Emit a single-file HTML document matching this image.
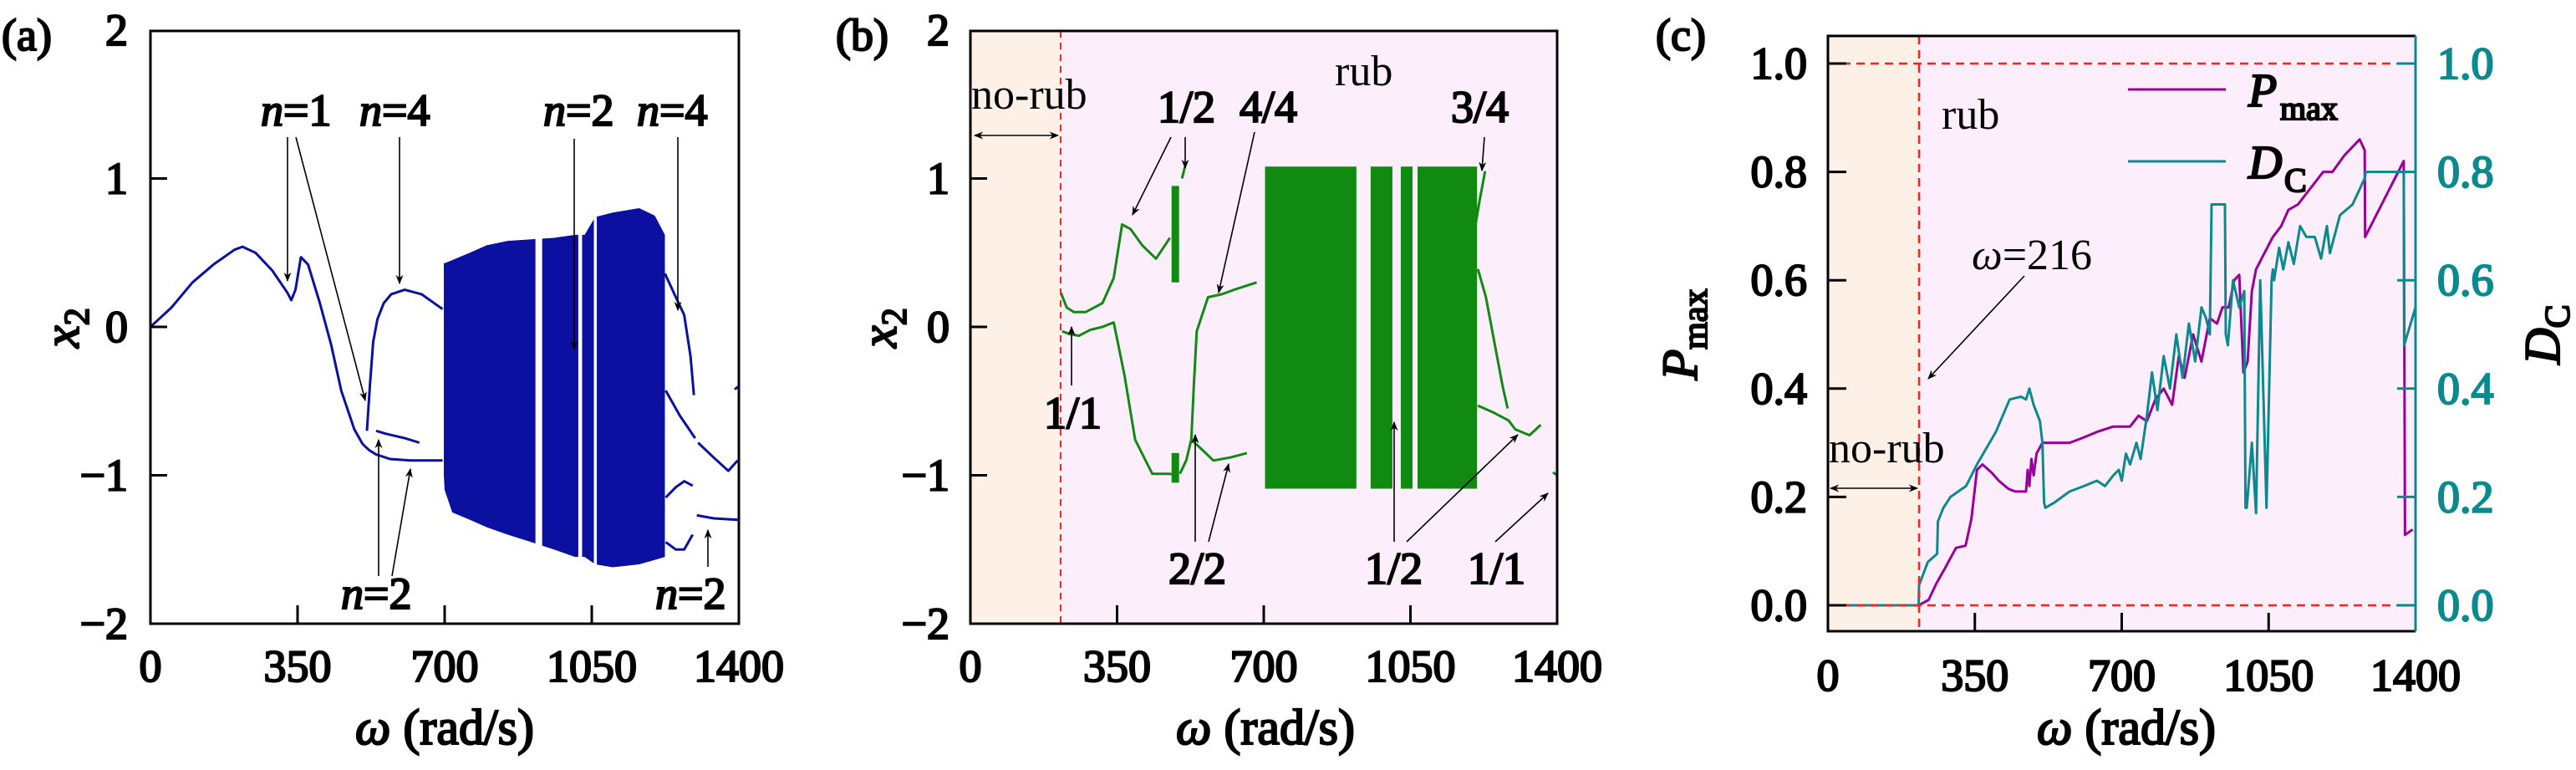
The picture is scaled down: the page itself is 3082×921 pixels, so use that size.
<!DOCTYPE html>
<html><head><meta charset="utf-8"><style>
html,body{margin:0;padding:0;background:#fff;}
svg, svg text, svg tspan{font-family:"Liberation Serif","DejaVu Serif",serif;}
.tk{font-size:54px;}
.an{font-size:54px;}
.nr{font-size:52px;}
</style></head><body>
<svg id="fig" width="3082" height="916" viewBox="0 0 3082 916" xmlns="http://www.w3.org/2000/svg">
<rect x="1161" y="37" width="108" height="709" fill="#fdf1e7"/>
<rect x="1269" y="37" width="594" height="709" fill="#fdeefc"/>
<rect x="2187" y="43" width="109" height="712" fill="#fdf1e7"/>
<rect x="2296" y="43" width="594" height="712" fill="#fdeefc"/>
<g id="ga"></g>
<g id="gb"></g>
<g id="gc"></g>
<line x1="1269" y1="37" x2="1269" y2="746" stroke="#ff2020" stroke-width="2" stroke-dasharray="8,6"/>
<line x1="2296" y1="43" x2="2296" y2="755" stroke="#ff2020" stroke-width="2.5" stroke-dasharray="10,7"/>
<line x1="2187" y1="76" x2="2890" y2="76" stroke="#ff2020" stroke-width="2.5" stroke-dasharray="10,7"/>
<line x1="2187" y1="724" x2="2890" y2="724" stroke="#ff2020" stroke-width="2.5" stroke-dasharray="10,7"/>
<rect x="180" y="37" width="704" height="709" fill="none" stroke="#000" stroke-width="3"/>
<rect x="1161" y="37" width="702" height="709" fill="none" stroke="#000" stroke-width="3"/>
<path d="M2890 43 L2187 43 L2187 755 L2890 755" fill="none" stroke="#000" stroke-width="3"/>
<line x1="2890" y1="43" x2="2890" y2="755" stroke="#0a8a8f" stroke-width="3"/>
<g id="ticks"></g>
<g stroke="#000" stroke-width="2.2" fill="#000">
<text x="2" y="60" class="an">(a)</text>
<text x="1000" y="60" class="an">(b)</text>
<text x="1981" y="60" class="an">(c)</text>
<text x="532" y="890" text-anchor="middle" font-size="60"><tspan font-style="italic">ω</tspan> (rad/s)</text>
<text x="1514" y="890" text-anchor="middle" font-size="60"><tspan font-style="italic">ω</tspan> (rad/s)</text>
<text x="2544" y="890" text-anchor="middle" font-size="60"><tspan font-style="italic">ω</tspan> (rad/s)</text>
<text transform="translate(94,392) rotate(-90)" text-anchor="middle" font-size="60" font-style="italic">x<tspan font-size="42" dy="12" font-style="normal">2</tspan></text>
<text transform="translate(1072,392) rotate(-90)" text-anchor="middle" font-size="60" font-style="italic">x<tspan font-size="42" dy="12" font-style="normal">2</tspan></text>
<text transform="translate(2030,400) rotate(-90)" text-anchor="middle" font-size="60" font-style="italic">P<tspan font-size="42" dy="12" font-style="normal">max</tspan></text>
<text transform="translate(3062,400) rotate(-90)" text-anchor="middle" font-size="60" font-style="italic">D<tspan font-size="42" dy="12" font-style="normal">C</tspan></text>
<g class="an">
<text x="312" y="150"><tspan font-style="italic">n</tspan>=1</text>
<text x="430" y="150"><tspan font-style="italic">n</tspan>=4</text>
<text x="650" y="150"><tspan font-style="italic">n</tspan>=2</text>
<text x="762" y="150"><tspan font-style="italic">n</tspan>=4</text>
<text x="408" y="728"><tspan font-style="italic">n</tspan>=2</text>
<text x="784" y="728"><tspan font-style="italic">n</tspan>=2</text>
</g>
<g class="an">
<text x="1385" y="146">1/2</text>
<text x="1483" y="146">4/4</text>
<text x="1736" y="146">3/4</text>
<text x="1249" y="512">1/1</text>
<text x="1398" y="698">2/2</text>
<text x="1633" y="698">1/2</text>
<text x="1756" y="698">1/1</text>
</g>
<text x="2690" y="127" font-size="56" font-style="italic">P</text>
<text x="2728" y="143" font-size="40">max</text>
<text x="2690" y="213" font-size="56" font-style="italic">D</text>
<text x="2733" y="229" font-size="40">C</text>
</g>
<text x="1162" y="130" class="nr">no-rub</text>
<text x="1597" y="102" class="nr">rub</text>
<text x="2323" y="154" class="nr">rub</text>
<text x="2359" y="322" class="nr"><tspan font-style="italic">ω</tspan>=216</text>
<text x="2188" y="553" class="nr">no-rub</text>
<line x1="2546" y1="107" x2="2663" y2="107" stroke="#990099" stroke-width="3"/>
<line x1="2546" y1="193" x2="2663" y2="193" stroke="#0a8a8f" stroke-width="3"/>
<defs>
<marker id="ah" viewBox="0 0 10 10" refX="9" refY="5" markerWidth="7" markerHeight="7" orient="auto-start-reverse"><path d="M0,1 L10,5 L0,9 L3,5 Z" fill="#000"/></marker>
</defs>
<g id="arrows" stroke="#000" stroke-width="1.6" fill="none"></g>
</svg>
<script>
// ---------- Panel (a) data ----------
const aMainW = [0,50,100,150,200,219,250,290,326,335,345,358,375,403,430,454,485,505];
const aMainX = [0,0.13,0.3,0.42,0.52,0.54,0.5,0.38,0.23,0.18,0.25,0.47,0.42,0.16,-0.12,-0.43,-0.69,-0.79];
const aUp2W = [515,522,530,540,555,573,605,645,695];
const aUp2X = [-0.7,-0.4,-0.1,0.05,0.16,0.22,0.25,0.22,0.12];
const aLo2W = [505,520,537,570,618,660,695];
const aLo2X = [-0.79,-0.83,-0.86,-0.89,-0.9,-0.9,-0.9];
const aIn2W = [537,560,605,640];
const aIn2X = [-0.7,-0.72,-0.75,-0.78];
const aChaosW = [698,700,718,760,800,850,906,960,1010,1033,1058,1100,1163,1200,1224];
const aChaosTop = [0.43,0.43,0.45,0.5,0.55,0.58,0.59,0.6,0.62,0.62,0.74,0.77,0.8,0.75,0.62];
const aChaosBot = [-1.0,-1.1,-1.25,-1.3,-1.35,-1.4,-1.45,-1.5,-1.55,-1.55,-1.6,-1.62,-1.6,-1.57,-1.55];
const aGapW0 = [916,1018,1055];
const aGapW1 = [932,1027,1062];
const aT1W = [1224,1250,1270,1285,1293];
const aT1X = [0.36,0.2,0.08,-0.2,-0.46];
const aT2W = [1226,1260,1296];
const aT2X = [-0.43,-0.6,-0.75];
const aT3W = [1303,1340,1375,1397];
const aT3X = [-0.78,-0.88,-0.97,-0.9];
const aT4W = [1390,1400];
const aT4X = [-0.42,-0.4];
const aT5W = [1226,1250,1270,1290];
const aT5X = [-1.15,-1.08,-1.04,-1.07];
const aT6W = [1226,1250,1270,1290];
const aT6X = [-1.45,-1.5,-1.5,-1.4];
const aT7W = [1300,1340,1397];
const aT7X = [-1.27,-1.29,-1.3];
// ---------- Panel (b) data ----------
const bUp1W = [216,230,247,275,315,342,362,382,410,443,476];
const bUp1X = [0.23,0.13,0.1,0.1,0.16,0.33,0.69,0.66,0.55,0.46,0.6];
const bLo1W = [219,240,259,286,315,342,368,393,434,474,495];
const bLo1X = [-0.03,-0.05,-0.06,-0.02,0.0,0.03,-0.33,-0.76,-0.99,-0.99,-1.0];
const bUp2W = [500,515,527,533,540,567,600,629,683];
const bUp2X = [-0.99,-0.9,-0.76,-0.4,-0.03,0.2,0.22,0.25,0.3];
const bLo2W = [527,550,580,620,660];
const bLo2X = [-0.76,-0.82,-0.9,-0.88,-0.85];
const bBlobW = [480,498];
const bBlobTop = [0.95,0.95];
const bBlobBot = [0.3,0.3];
const bBlob2W = [480,498];
const bBlob2Top = [-0.85,-0.85];
const bBlob2Bot = [-1.05,-1.05];
const bSegW = [505,512];
const bSegX = [1.0,1.08];
const bChaosW = [703,1209];
const bChaosTop = [1.08,1.08];
const bChaosBot = [-1.09,-1.09];
const bGapW0 = [921,1007,1055];
const bGapW1 = [955,1027,1067];
const bT1W = [1211,1230,1250,1270,1282];
const bT1X = [0.39,0.2,-0.1,-0.4,-0.55];
const bT2W = [1211,1250,1284,1300,1334,1361];
const bT2X = [-0.53,-0.58,-0.63,-0.69,-0.73,-0.66];
const bT3W = [1200,1215,1228];
const bT3X = [0.6,0.85,1.05];
const bT4W = [1390,1400];
const bT4X = [-0.98,-1.0];
// ---------- Panel (c) data ----------
const cPW = [0,216,240,258,280,305,328,342,355,368,
 390,407,430,446,472,476,480,485,490,497,
 511,540,576,610,641,680,720,740,760,780,
 800,820,836,850,870,890,910,927,940,955,
 968,980,990,1000,1010,1020,1040,1060,1080,1097,
 1120,1140,1160,1180,1202,1230,1267,1279,1280,1372,
 1375,1393];
const cPV = [0,0,0.01,0.04,0.07,0.106,0.11,0.16,0.25,0.26,
 0.245,0.23,0.215,0.21,0.21,0.25,0.22,0.27,0.24,0.28,
 0.3,0.3,0.3,0.31,0.32,0.33,0.33,0.35,0.34,0.38,
 0.4,0.37,0.46,0.42,0.5,0.45,0.53,0.52,0.55,0.55,
 0.6,0.61,0.43,0.45,0.58,0.62,0.65,0.68,0.7,0.73,
 0.74,0.76,0.78,0.8,0.8,0.83,0.86,0.84,0.68,0.82,
 0.13,0.14];
const cDW = [0,216,217,238,260,262,275,292,329,355,
 400,433,460,472,480,490,505,511,515,518,
 540,576,610,641,660,680,693,700,710,720,
 735,745,760,772,785,800,815,830,845,860,
 875,890,901,910,914,946,948,953,965,980,
 992,995,998,1010,1020,1030,1045,1057,1060,1063,
 1075,1085,1097,1110,1125,1140,1160,1175,1189,1196,
 1220,1250,1280,1281,1372,1373,1400];
const cDV = [0,0,0.037,0.08,0.095,0.155,0.18,0.2,0.22,0.26,
 0.32,0.38,0.385,0.38,0.4,0.37,0.34,0.3,0.19,0.18,
 0.19,0.21,0.22,0.23,0.22,0.24,0.25,0.23,0.28,0.26,
 0.3,0.27,0.35,0.43,0.36,0.46,0.4,0.5,0.42,0.52,
 0.45,0.55,0.53,0.5,0.74,0.74,0.5,0.48,0.6,0.55,
 0.58,0.18,0.18,0.3,0.17,0.6,0.18,0.6,0.62,0.6,
 0.66,0.62,0.67,0.63,0.7,0.68,0.68,0.64,0.7,0.65,
 0.72,0.74,0.79,0.8,0.8,0.48,0.55];
const xTicks = [0,350,700,1050,1400];
const abYTicks = [-2,-1,0,1,2];
const cYTicks = [0,0.2,0.4,0.6,0.8,1.0];

const NS = 'http://www.w3.org/2000/svg';
const PA = {x0:180, x1:884, y:v=>391-v*177.5};
const PB = {x0:1161, x1:1863, y:v=>391-v*177.5};
const PC = {x0:2187, x1:2890, y:v=>724-v*648};
function sx(p,w){return p.x0+(p.x1-p.x0)*w/1400;}
function mk(tag,parent){const e=document.createElementNS(NS,tag);parent.appendChild(e);return e;}

function line(gid,p,ws,xs,color,name,sw){
  const el=mk('polyline',document.getElementById(gid));
  el.setAttribute('points',ws.map((w,i)=>sx(p,w).toFixed(1)+','+p.y(xs[i]).toFixed(1)).join(' '));
  el.setAttribute('fill','none');el.setAttribute('stroke',color);el.setAttribute('stroke-width',sw||3);
  el.setAttribute('stroke-linejoin','round');
  
  
}
function band(gid,p,ws,top,bot,color,name){
  const el=mk('polygon',document.getElementById(gid));
  const pts=ws.map((w,i)=>sx(p,w).toFixed(1)+','+p.y(top[i]).toFixed(1));
  for(let i=ws.length-1;i>=0;i--)pts.push(sx(p,ws[i]).toFixed(1)+','+p.y(bot[i]).toFixed(1));
  el.setAttribute('points',pts.join(' '));el.setAttribute('fill',color);
  
  
}
function gaps(gid,p,w0,w1,ytop,ybot,color,name){
  w0.forEach((w,i)=>{
    const el=mk('rect',document.getElementById(gid));
    el.setAttribute('x',sx(p,w));el.setAttribute('width',sx(p,w1[i])-sx(p,w));
    el.setAttribute('y',p.y(ytop));el.setAttribute('height',p.y(ybot)-p.y(ytop));
    el.setAttribute('fill',color);
    
    
  });
}
const BLUE='#0b10a0', GREEN='#118a11';
line('ga',PA,aMainW,aMainX,BLUE,'a-branch-main');
line('ga',PA,aUp2W,aUp2X,BLUE,'a-branch-upper');
line('ga',PA,aLo2W,aLo2X,BLUE,'a-branch-lower');
line('ga',PA,aIn2W,aIn2X,BLUE,'a-branch-inner');
band('ga',PA,aChaosW,aChaosTop,aChaosBot,BLUE,'a-chaos-band');
gaps('ga',PA,aGapW0,aGapW1,0.85,-1.7,'#fff','a-chaos-gap');
line('ga',PA,aT1W,aT1X,BLUE,'a-tail-1');
line('ga',PA,aT2W,aT2X,BLUE,'a-tail-2');
line('ga',PA,aT3W,aT3X,BLUE,'a-tail-3');
line('ga',PA,aT4W,aT4X,BLUE,'a-tail-4');
line('ga',PA,aT5W,aT5X,BLUE,'a-tail-5');
line('ga',PA,aT6W,aT6X,BLUE,'a-tail-6');
line('ga',PA,aT7W,aT7X,BLUE,'a-tail-7');
line('gb',PB,bUp1W,bUp1X,GREEN,'b-branch-upper-1');
line('gb',PB,bLo1W,bLo1X,GREEN,'b-branch-lower-1');
line('gb',PB,bUp2W,bUp2X,GREEN,'b-branch-upper-2');
line('gb',PB,bLo2W,bLo2X,GREEN,'b-branch-lower-2');
band('gb',PB,bBlobW,bBlobTop,bBlobBot,GREEN,'b-blob-upper');
band('gb',PB,bBlob2W,bBlob2Top,bBlob2Bot,GREEN,'b-blob-lower');
line('gb',PB,bSegW,bSegX,GREEN,'b-segment');
band('gb',PB,bChaosW,bChaosTop,bChaosBot,GREEN,'b-chaos-band');
gaps('gb',PB,bGapW0,bGapW1,1.12,-1.12,'#fdeefc','b-chaos-gap');
line('gb',PB,bT1W,bT1X,GREEN,'b-tail-1');
line('gb',PB,bT2W,bT2X,GREEN,'b-tail-2');
line('gb',PB,bT3W,bT3X,GREEN,'b-tail-3');
line('gb',PB,bT4W,bT4X,GREEN,'b-tail-4');
line('gc',PC,cPW,cPV,'#990099','series-pmax',3);
line('gc',PC,cDW,cDV,'#0a8a8f','series-dc',3);

const tg=document.getElementById('ticks');
function txt(x,y,s,anchor,color,name){
  const t=mk('text',tg);t.setAttribute('x',x);t.setAttribute('y',y);t.setAttribute('class','tk');
  t.setAttribute('text-anchor',anchor);t.setAttribute('fill',color);
  t.setAttribute('stroke',color);t.setAttribute('stroke-width','2.2');
  t.textContent=s;
  
  
}
function tk(x1,y1,x2,y2,color,name){
  const l=mk('line',tg);l.setAttribute('x1',x1);l.setAttribute('y1',y1);l.setAttribute('x2',x2);l.setAttribute('y2',y2);
  l.setAttribute('stroke',color);l.setAttribute('stroke-width',3);
  
  
}
[[PA,746,815,153,'a'],[PB,746,815,1136,'b'],[PC,755,826,2162,'c']].forEach(([p,yb,ylab,yl,k])=>{
  xTicks.forEach(v=>{
    const x=sx(p,v);
    if(v>0&&v<1400) tk(x,yb,x,yb-22,'#000',k+'-x-tick-'+v);
    txt(x,ylab,String(v),'middle','#000',k+'-x-tick-label-'+v);
  });
  if(k!=='c'){
    abYTicks.forEach(v=>{
      const y=p.y(v);
      if(v>-2&&v<2) tk(p.x0,y,p.x0+20,y,'#000',k+'-y-tick-'+v);
      txt(yl,y+18,v<0?'\u2212'+Math.abs(v):String(v),'end','#000',k+'-y-tick-label-'+v);
    });
  } else {
    cYTicks.forEach(v=>{
      const y=p.y(v);
      tk(p.x0,y,p.x0+22,y,'#000','c-left-y-tick-'+v);
      tk(p.x1,y,p.x1-22,y,'#0a8a8f','c-right-y-tick-'+v);
      txt(yl,y+18,v.toFixed(1),'end','#000','c-left-y-tick-label-'+v);
      txt(2916,y+18,v.toFixed(1),'start','#0a8a8f','c-right-y-tick-label-'+v);
    });
  }
});

const ag=document.getElementById('arrows');
const arrowFrom=[[344,164],[354,164],[478,164],[687,166],[811,164],[453,689],[469,689],[847,678],
 [1401,164],[1418,164],[1501,158],[1776,164],[1282,461],[1430,648],[1446,648],[1668,648],[1683,648],[1789,648],[2422,330]];
const arrowTo=[[344,336],[437,479],[478,339],[687,418],[811,371],[453,526],[491,561],[847,634],
 [1355,257],[1418,201],[1458,350],[1773,204],[1282,391],[1430,520],[1470,555],[1668,505],[1816,520],[1852,590],[2307,453]];
arrowFrom.forEach((f,i)=>{
  const l=mk('line',ag);
  l.setAttribute('x1',f[0]);l.setAttribute('y1',f[1]);l.setAttribute('x2',arrowTo[i][0]);l.setAttribute('y2',arrowTo[i][1]);
  l.setAttribute('marker-end','url(#ah)');
  
  
});
const dbl=[[1166,162,1266,162],[2190,584,2294,584]];
dbl.forEach((d,i)=>{
  const l=mk('line',ag);
  l.setAttribute('x1',d[0]);l.setAttribute('y1',d[1]);l.setAttribute('x2',d[2]);l.setAttribute('y2',d[3]);
  l.setAttribute('marker-end','url(#ah)');l.setAttribute('marker-start','url(#ah)');
  
  
});
</script>
</body></html>
